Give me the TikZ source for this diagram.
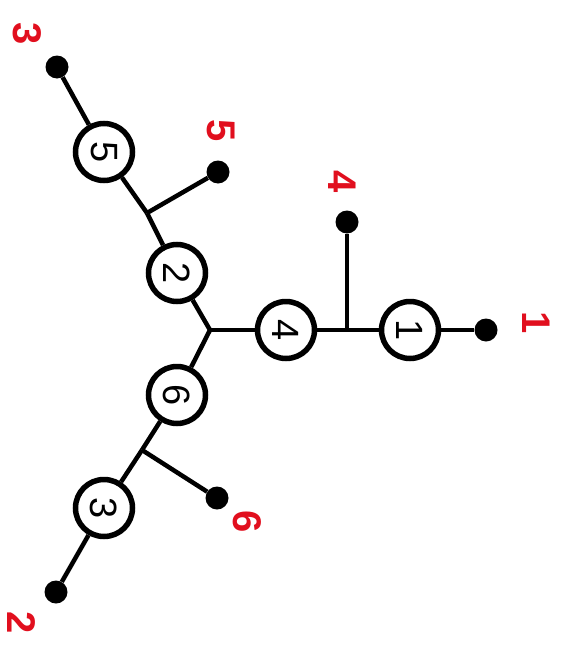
\documentclass[tikz,border=0pt]{standalone}
\usepackage{fontspec}
\setmainfont{Liberation Sans}
\definecolor{labred}{RGB}{225,15,30}
\begin{document}
\begin{tikzpicture}[x=1pt,y=-1pt,
  vert/.style={circle,draw=black,line width=5.5pt,fill=white,minimum size=57pt,inner sep=0pt,font=\fontsize{38}{38}\selectfont,rotate=-90},
  leaf/.style={circle,fill=black,minimum size=23pt,inner sep=0pt},
  lab/.style={text=labred,font=\bfseries\fontsize{40}{40}\selectfont,rotate=-90,inner sep=0pt},
  edge/.style={line width=4.5pt}]
\useasboundingbox (0,0) rectangle (572,653);
% vertices
\node[vert] (n1) at (410,330) {1};
\node[vert] (n4) at (286,330) {4};
\node[vert] (n2) at (177,273) {2};
\node[vert] (n5) at (104,152) {5};
\node[vert] (n6) at (177,395) {6};
\node[vert] (n3) at (104,508) {3};
% leaves
\node[leaf] (d1) at (486,330) {};
\node[leaf] (d4) at (347,222) {};
\node[leaf] (d5) at (218,172) {};
\node[leaf] (d3) at (57,67) {};
\node[leaf] (d6) at (217,498) {};
\node[leaf] (d2) at (56,592) {};
% junctions
\coordinate (jA) at (347,330);
\coordinate (jC) at (210,330);
\coordinate (jB) at (147,213);
\coordinate (jD) at (142,450);
% edges
\draw[edge] (d1) -- (n1);
\draw[edge] (n1) -- (jA);
\draw[edge] (jA) -- (n4);
\draw[edge] (jA) -- (d4);
\draw[edge] (n4) -- (jC);
\draw[edge] (jC) -- (n2);
\draw[edge] (n2) -- (jB);
\draw[edge] (jB) -- (n5);
\draw[edge] (jB) -- (d5);
\draw[edge] (n5) -- (d3);
\draw[edge] (jC) -- (n6);
\draw[edge] (n6) -- (jD);
\draw[edge] (jD) -- (n3);
\draw[edge] (jD) -- (d6);
\draw[edge] (n3) -- (d2);
% labels
\node[lab] (l1) at (536,323) {1};
\node[lab] (l4) at (342,182) {4};
\node[lab] (l5) at (221,131) {5};
\node[lab] (l3) at (27,34) {3};
\node[lab] (l6) at (247,522) {6};
\node[lab] (l2) at (21,623) {2};
\end{tikzpicture}
\end{document}
